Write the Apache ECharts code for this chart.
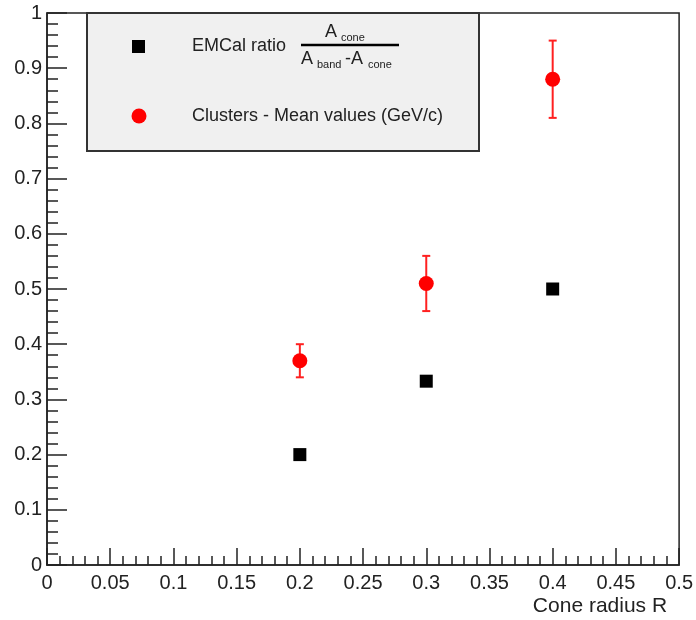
<!DOCTYPE html>
<html>
<head>
<meta charset="utf-8">
<script src="https://cdn.jsdelivr.net/npm/echarts@6/dist/echarts.min.js"></script>
<style>
  html, body { margin: 0; padding: 0; background: #fff; }
  #chart { width: 696px; height: 620px; }
</style>
</head>
<body>
<div id="chart"></div>
<script>
// values
var radii = [0.2, 0.3, 0.4];           // cone radius R
var emcalRatio = [0.2, 0.333, 0.5];    // EMCal ratio Acone/(Aband-Acone)
var clusterMean = [0.37, 0.51, 0.88];  // clusters mean values (GeV/c)
var clusterErr = [0.03, 0.05, 0.07];   // error on cluster mean

var FONT = 'Liberation Sans, Arial, Helvetica, sans-serif';
var INK = '#222';

var chart = echarts.init(document.getElementById('chart'));

var ratioData = radii.map(function (r, i) { return [r, emcalRatio[i]]; });
var meanData = radii.map(function (r, i) { return [r, clusterMean[i]]; });
var errData = radii.map(function (r, i) {
    return [r, clusterMean[i] - clusterErr[i], clusterMean[i] + clusterErr[i]];
});

// one vertical error bar with small caps
function renderErr(params, api) {
    var lo = api.coord([api.value(0), api.value(1)]);
    var hi = api.coord([api.value(0), api.value(2)]);
    var cap = 4;
    var st = { stroke: '#ff2020', lineWidth: 2 };
    return {
        type: 'group',
        children: [
            { type: 'line', shape: { x1: lo[0], y1: lo[1], x2: hi[0], y2: hi[1] }, style: st },
            { type: 'line', shape: { x1: lo[0] - cap, y1: lo[1], x2: lo[0] + cap, y2: lo[1] }, style: st },
            { type: 'line', shape: { x1: hi[0] - cap, y1: hi[1], x2: hi[0] + cap, y2: hi[1] }, style: st }
        ]
    };
}

var tickLine = { color: INK, width: 1.5 };

var option = {
    animation: false,
    backgroundColor: '#fff',
    grid: {
        left: 47, right: 16, top: 13, bottom: 55,
        show: true, borderColor: INK, borderWidth: 1.5, backgroundColor: '#fff'
    },
    xAxis: {
        type: 'value',
        min: 0, max: 0.5, interval: 0.05,
        axisLine: { show: true, onZero: false, lineStyle: tickLine },
        axisTick: { show: true, inside: true, length: 17, lineStyle: tickLine },
        minorTick: { show: true, splitNumber: 5, length: 9, lineStyle: tickLine },
        splitLine: { show: false },
        axisLabel: { color: INK, fontFamily: FONT, fontSize: 20, margin: 8 },
        name: 'Cone radius R',
        nameLocation: 'end',
        nameGap: -12,
        nameTextStyle: {
            color: INK, fontFamily: FONT, fontSize: 21,
            align: 'right', verticalAlign: 'top', padding: [31, 0, 0, 0]
        }
    },
    yAxis: {
        type: 'value',
        min: 0, max: 1, interval: 0.1,
        axisLine: { show: true, onZero: false, lineStyle: tickLine },
        axisTick: { show: true, inside: true, length: 20, lineStyle: tickLine },
        minorTick: { show: true, splitNumber: 5, length: 11, lineStyle: tickLine },
        splitLine: { show: false },
        axisLabel: { color: INK, fontFamily: FONT, fontSize: 20, margin: 5 }
    },
    series: [
        {
            name: 'EMCal ratio',
            type: 'scatter',
            data: ratioData,
            symbol: 'rect',
            symbolSize: 13,
            itemStyle: { color: '#000', opacity: 1 }
        },
        {
            name: 'Clusters error',
            type: 'custom',
            data: errData,
            encode: { x: 0, y: [1, 2] },
            renderItem: renderErr,
            z: 2
        },
        {
            name: 'Clusters - Mean values (GeV/c)',
            type: 'scatter',
            data: meanData,
            symbol: 'circle',
            symbolSize: 15,
            itemStyle: { color: '#ff0000', opacity: 1 },
            z: 3
        }
    ],
    // ROOT style legend box with the ratio formula
    graphic: [
        {
            type: 'rect', z: 10,
            shape: { x: 87, y: 13, width: 392, height: 138 },
            style: { fill: '#f0f0f0', stroke: '#333', lineWidth: 2 }
        },
        {
            type: 'rect', z: 11,
            shape: { x: 132, y: 40, width: 13, height: 13 },
            style: { fill: '#000' }
        },
        {
            type: 'circle', z: 11,
            shape: { cx: 139, cy: 116, r: 7.5 },
            style: { fill: '#ff0000' }
        },
        {
            type: 'text', z: 11, x: 192, y: 46,
            style: { text: 'EMCal ratio', font: '18px ' + FONT, fill: INK, verticalAlign: 'middle' }
        },
        {
            type: 'text', z: 11, x: 325, y: 32,
            style: { text: 'A', font: '18px ' + FONT, fill: INK, verticalAlign: 'middle' }
        },
        {
            type: 'text', z: 11, x: 341, y: 38,
            style: { text: 'cone', font: '11px ' + FONT, fill: INK, verticalAlign: 'middle' }
        },
        {
            type: 'line', z: 11,
            shape: { x1: 301, y1: 45, x2: 399, y2: 45 },
            style: { stroke: '#000', lineWidth: 2.5 }
        },
        {
            type: 'text', z: 11, x: 301, y: 59,
            style: { text: 'A', font: '18px ' + FONT, fill: INK, verticalAlign: 'middle' }
        },
        {
            type: 'text', z: 11, x: 317, y: 65,
            style: { text: 'band', font: '11px ' + FONT, fill: INK, verticalAlign: 'middle' }
        },
        {
            type: 'text', z: 11, x: 345, y: 59,
            style: { text: '-A', font: '18px ' + FONT, fill: INK, verticalAlign: 'middle' }
        },
        {
            type: 'text', z: 11, x: 368, y: 65,
            style: { text: 'cone', font: '11px ' + FONT, fill: INK, verticalAlign: 'middle' }
        },
        {
            type: 'text', z: 11, x: 192, y: 116,
            style: { text: 'Clusters - Mean values (GeV/c)', font: '18px ' + FONT, fill: INK, verticalAlign: 'middle' }
        }
    ]
};

chart.setOption(option);
</script>
</body>
</html>
